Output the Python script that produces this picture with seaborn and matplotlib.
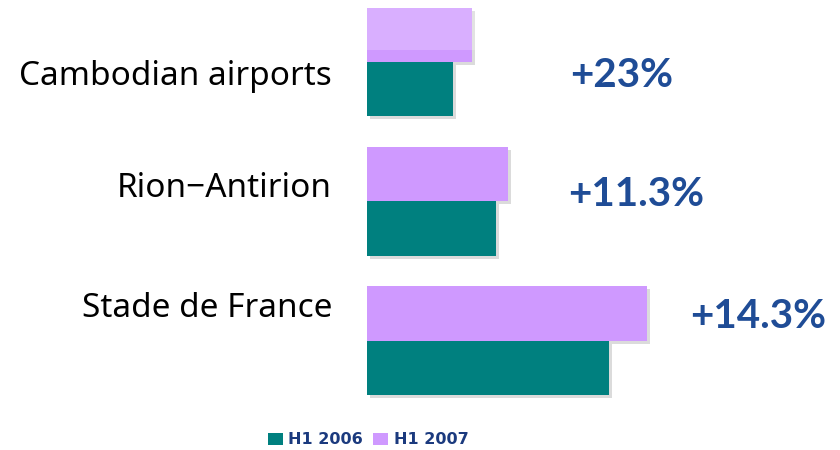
import matplotlib
matplotlib.use("Agg")
import matplotlib.pyplot as plt
import matplotlib.patheffects as pe
from matplotlib.patches import Patch
import numpy as np
import pandas as pd
import seaborn as sns

# Data (bar lengths, arbitrary units)
categories = ["Cambodian airports", "Rion\u2212Antirion", "Stade de France"]
h1_2006 = [86, 129, 242]
h1_2007 = [105, 141, 280]
growth_labels = ["+23%", "+11.3%", "+14.3%"]
series_names = ["H1 2006", "H1 2007"]

# Colours
TEAL = "#00807F"
LILAC = "#CF99FF"
BLUE = "#1F4C96"
NAVY = "#1B3A7E"

df = pd.DataFrame(
    {
        "site": categories * 2,
        "period": [series_names[0]] * 3 + [series_names[1]] * 3,
        "value": h1_2006 + h1_2007,
    }
)

sns.set_style("white")
plt.rcParams["font.family"] = ["Noto Sans", "DejaVu Sans"]

fig = plt.figure(figsize=(8.4, 4.5), dpi=100)
# axes starts at bar base, 1 data unit == 1 pixel horizontally
ax = fig.add_axes([367 / 840, 0, 473 / 840, 1])

sns.barplot(
    data=df,
    y="site",
    x="value",
    hue="period",
    hue_order=[series_names[1], series_names[0]],
    palette={series_names[0]: TEAL, series_names[1]: LILAC},
    order=categories,
    orient="h",
    width=0.78,
    saturation=1,
    legend=False,
    ax=ax,
)

shadow = [pe.SimplePatchShadow(offset=(2, -2), shadow_rgbFace="#999999", alpha=0.35), pe.Normal()]
for bar in ax.patches:
    bar.set_linewidth(0)
    bar.set_path_effects(shadow)

ax.set_xlim(0, 473)
ax.set_ylim(2.784, -0.446)
ax.axis("off")

# faint white overlay over the very top (title box in the original)
ax.axhspan(-0.446, -0.086, color="white", alpha=0.22, lw=0, zorder=5)

# category labels and growth figures, hand-placed like the slide
label_dy = [0.165, -0.03, -0.17]
pct_x = [255, 269, 391]
pct_dy = [0.18, 0.036, -0.093]
for i, name in enumerate(categories):
    ax.text(-35, i + label_dy[i], name, ha="right", va="baseline",
            fontsize=24, color="black", clip_on=False)
    ax.text(pct_x[i], i + pct_dy[i], growth_labels[i], ha="center", va="baseline",
            fontsize=29, fontweight="bold", family="Lato", color=BLUE, clip_on=False)

handles = [Patch(facecolor=TEAL, edgecolor="none"), Patch(facecolor=LILAC, edgecolor="none")]
leg = fig.legend(
    handles,
    series_names,
    loc="center",
    bbox_to_anchor=(368 / 840, 1 - 440 / 450),
    ncol=2,
    frameon=False,
    handlelength=0.95,
    handleheight=0.85,
    handletextpad=0.35,
    columnspacing=0.6,
    prop={"family": "DejaVu Sans", "weight": "bold", "size": 11.5},
)
for t in leg.get_texts():
    t.set_color(NAVY)

fig.savefig("out.png", dpi=100)
